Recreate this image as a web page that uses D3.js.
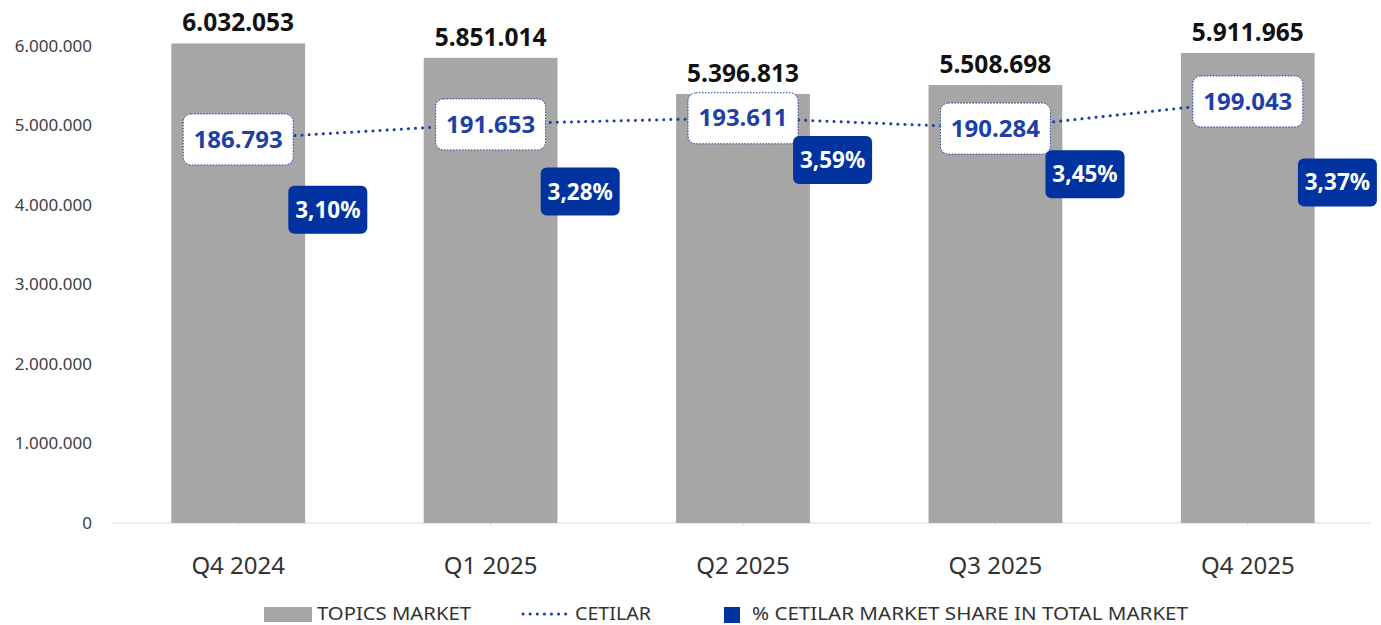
<!DOCTYPE html>
<html>
<head>
<meta charset="utf-8">
<script src="https://cdn.jsdelivr.net/npm/d3@7"></script>
<style>
  body { margin: 0; background: #fff; }
  svg { display: block; font-family: "Noto Sans", sans-serif; }
</style>
</head>
<body>
<script>
// data
var quarters = ["Q4 2024", "Q1 2025", "Q2 2025", "Q3 2025", "Q4 2025"];
var topicsMarket = [6032053, 5851014, 5396813, 5508698, 5911965];
var cetilar = [186793, 191653, 193611, 190284, 199043];
var shareTotal = [3.10, 3.28, 3.59, 3.45, 3.37];
var yTicks = [0, 1000000, 2000000, 3000000, 4000000, 5000000, 6000000];
var legendItems = ["TOPICS MARKET", "CETILAR", "% CETILAR MARKET SHARE IN TOTAL MARKET"];

var width = 1381, height = 625;
var blue = "#0033a0", lineBlue = "#1d3fa6", grey = "#a6a6a6";

var svg = d3.select("body").append("svg")
  .attr("width", width)
  .attr("height", height);

var x = d3.scaleBand()
  .domain(quarters)
  .range([112, 1374])
  .paddingInner(0.47)
  .paddingOuter(0.235);

var y = d3.scaleLinear()
  .domain([0, 6000000])
  .range([523, 46]);

// secondary scales for the CETILAR line and the share labels
var y2 = d3.scaleLinear()
  .domain([150000, 220000])
  .range([253, 36]);

var y3 = d3.scaleLinear()
  .domain([3.0, 3.6])
  .range([220, 159]);

var itFmt = function(v) { return d3.format(",")(v).replace(/,/g, "."); };
var cx = function(d, i) { return x(quarters[i]) + x.bandwidth() / 2; };

// y axis labels
svg.append("g").selectAll("text")
  .data(yTicks)
  .enter().append("text")
  .attr("x", 92)
  .attr("y", function(d) { return y(d); })
  .attr("dy", "0.35em")
  .attr("text-anchor", "end")
  .style("font-size", "17px")
  .style("fill", "#404040")
  .text(function(d) { return itFmt(d); });

// baseline + small ticks
svg.append("line")
  .attr("x1", 112).attr("x2", 1370)
  .attr("y1", y(0)).attr("y2", y(0))
  .attr("stroke", "#d9d9d9")
  .attr("stroke-width", 1);

svg.append("g").selectAll("line")
  .data(quarters)
  .enter().append("line")
  .attr("x1", function(d) { return x(d) + x.bandwidth() / 2; })
  .attr("x2", function(d) { return x(d) + x.bandwidth() / 2; })
  .attr("y1", y(0)).attr("y2", y(0) + 3)
  .attr("stroke", "#d9d9d9");

// bars
svg.append("g").selectAll("rect")
  .data(topicsMarket)
  .enter().append("rect")
  .attr("x", function(d, i) { return x(quarters[i]); })
  .attr("y", function(d) { return y(d); })
  .attr("width", x.bandwidth())
  .attr("height", function(d) { return y(0) - y(d); })
  .attr("fill", grey);

// bar value labels
svg.append("g").selectAll("text")
  .data(topicsMarket)
  .enter().append("text")
  .attr("x", cx)
  .attr("y", function(d) { return y(d) - 12; })
  .attr("text-anchor", "middle")
  .style("font-size", "24.5px")
  .style("font-weight", "bold")
  .style("fill", "#111")
  .text(function(d) { return itFmt(d); });

// x axis labels
svg.append("g").selectAll("text")
  .data(quarters)
  .enter().append("text")
  .attr("x", function(d) { return x(d) + x.bandwidth() / 2; })
  .attr("y", 574)
  .attr("text-anchor", "middle")
  .style("font-size", "24px")
  .style("fill", "#333")
  .text(function(d) { return d; });

// CETILAR dotted line
var line = d3.line()
  .x(cx)
  .y(function(d) { return y2(d); });

svg.append("path")
  .datum(cetilar)
  .attr("d", line)
  .attr("fill", "none")
  .attr("stroke", lineBlue)
  .attr("stroke-width", 3)
  .attr("stroke-linecap", "round")
  .attr("stroke-dasharray", "0.1 7");

// CETILAR value boxes
var cg = svg.append("g").selectAll("g")
  .data(cetilar)
  .enter().append("g")
  .attr("transform", function(d, i) { return "translate(" + cx(d, i) + "," + y2(d) + ")"; });

cg.append("rect")
  .attr("x", -55).attr("y", -25)
  .attr("width", 110).attr("height", 51)
  .attr("rx", 8)
  .attr("fill", "#fff")
  .attr("stroke", lineBlue)
  .attr("stroke-width", 1)
  .attr("stroke-dasharray", "1.5 1.5");

cg.append("text")
  .attr("dy", "0.36em")
  .attr("text-anchor", "middle")
  .style("font-size", "24px")
  .style("font-weight", "bold")
  .style("fill", lineBlue)
  .text(function(d) { return itFmt(d); });

// share labels
var sg = svg.append("g").selectAll("g")
  .data(shareTotal)
  .enter().append("g")
  .attr("transform", function(d, i) {
    return "translate(" + (cx(d, i) + x.step() * 0.355) + "," + y3(d) + ")";
  });

sg.append("rect")
  .attr("x", -39.5).attr("y", -24)
  .attr("width", 79).attr("height", 48)
  .attr("rx", 6)
  .attr("fill", blue);

sg.append("text")
  .attr("dy", "0.36em")
  .attr("text-anchor", "middle")
  .style("font-size", "22.5px")
  .style("font-weight", "bold")
  .style("fill", "#fff")
  .text(function(d) { return d.toFixed(2).replace(".", ",") + "%"; });

// legend
var legend = svg.append("g").attr("transform", "translate(0,614)");

legend.append("rect")
  .attr("x", 264).attr("y", -7)
  .attr("width", 48).attr("height", 15)
  .attr("fill", grey);
legend.append("line")
  .attr("x1", 523).attr("x2", 568)
  .attr("stroke", lineBlue)
  .attr("stroke-width", 3)
  .attr("stroke-linecap", "round")
  .attr("stroke-dasharray", "0.1 7");
legend.append("rect")
  .attr("x", 724).attr("y", -7)
  .attr("width", 16).attr("height", 16)
  .attr("fill", blue);

legend.selectAll("text")
  .data(legendItems)
  .enter().append("text")
  .attr("x", function(d, i) { return [317, 575, 752][i]; })
  .attr("y", 6)
  .attr("textLength", function(d, i) { return [154, 76, 436][i]; })
  .attr("lengthAdjust", "spacingAndGlyphs")
  .style("font-size", "18px")
  .style("fill", "#333")
  .text(function(d) { return d; });
</script>
</body>
</html>
